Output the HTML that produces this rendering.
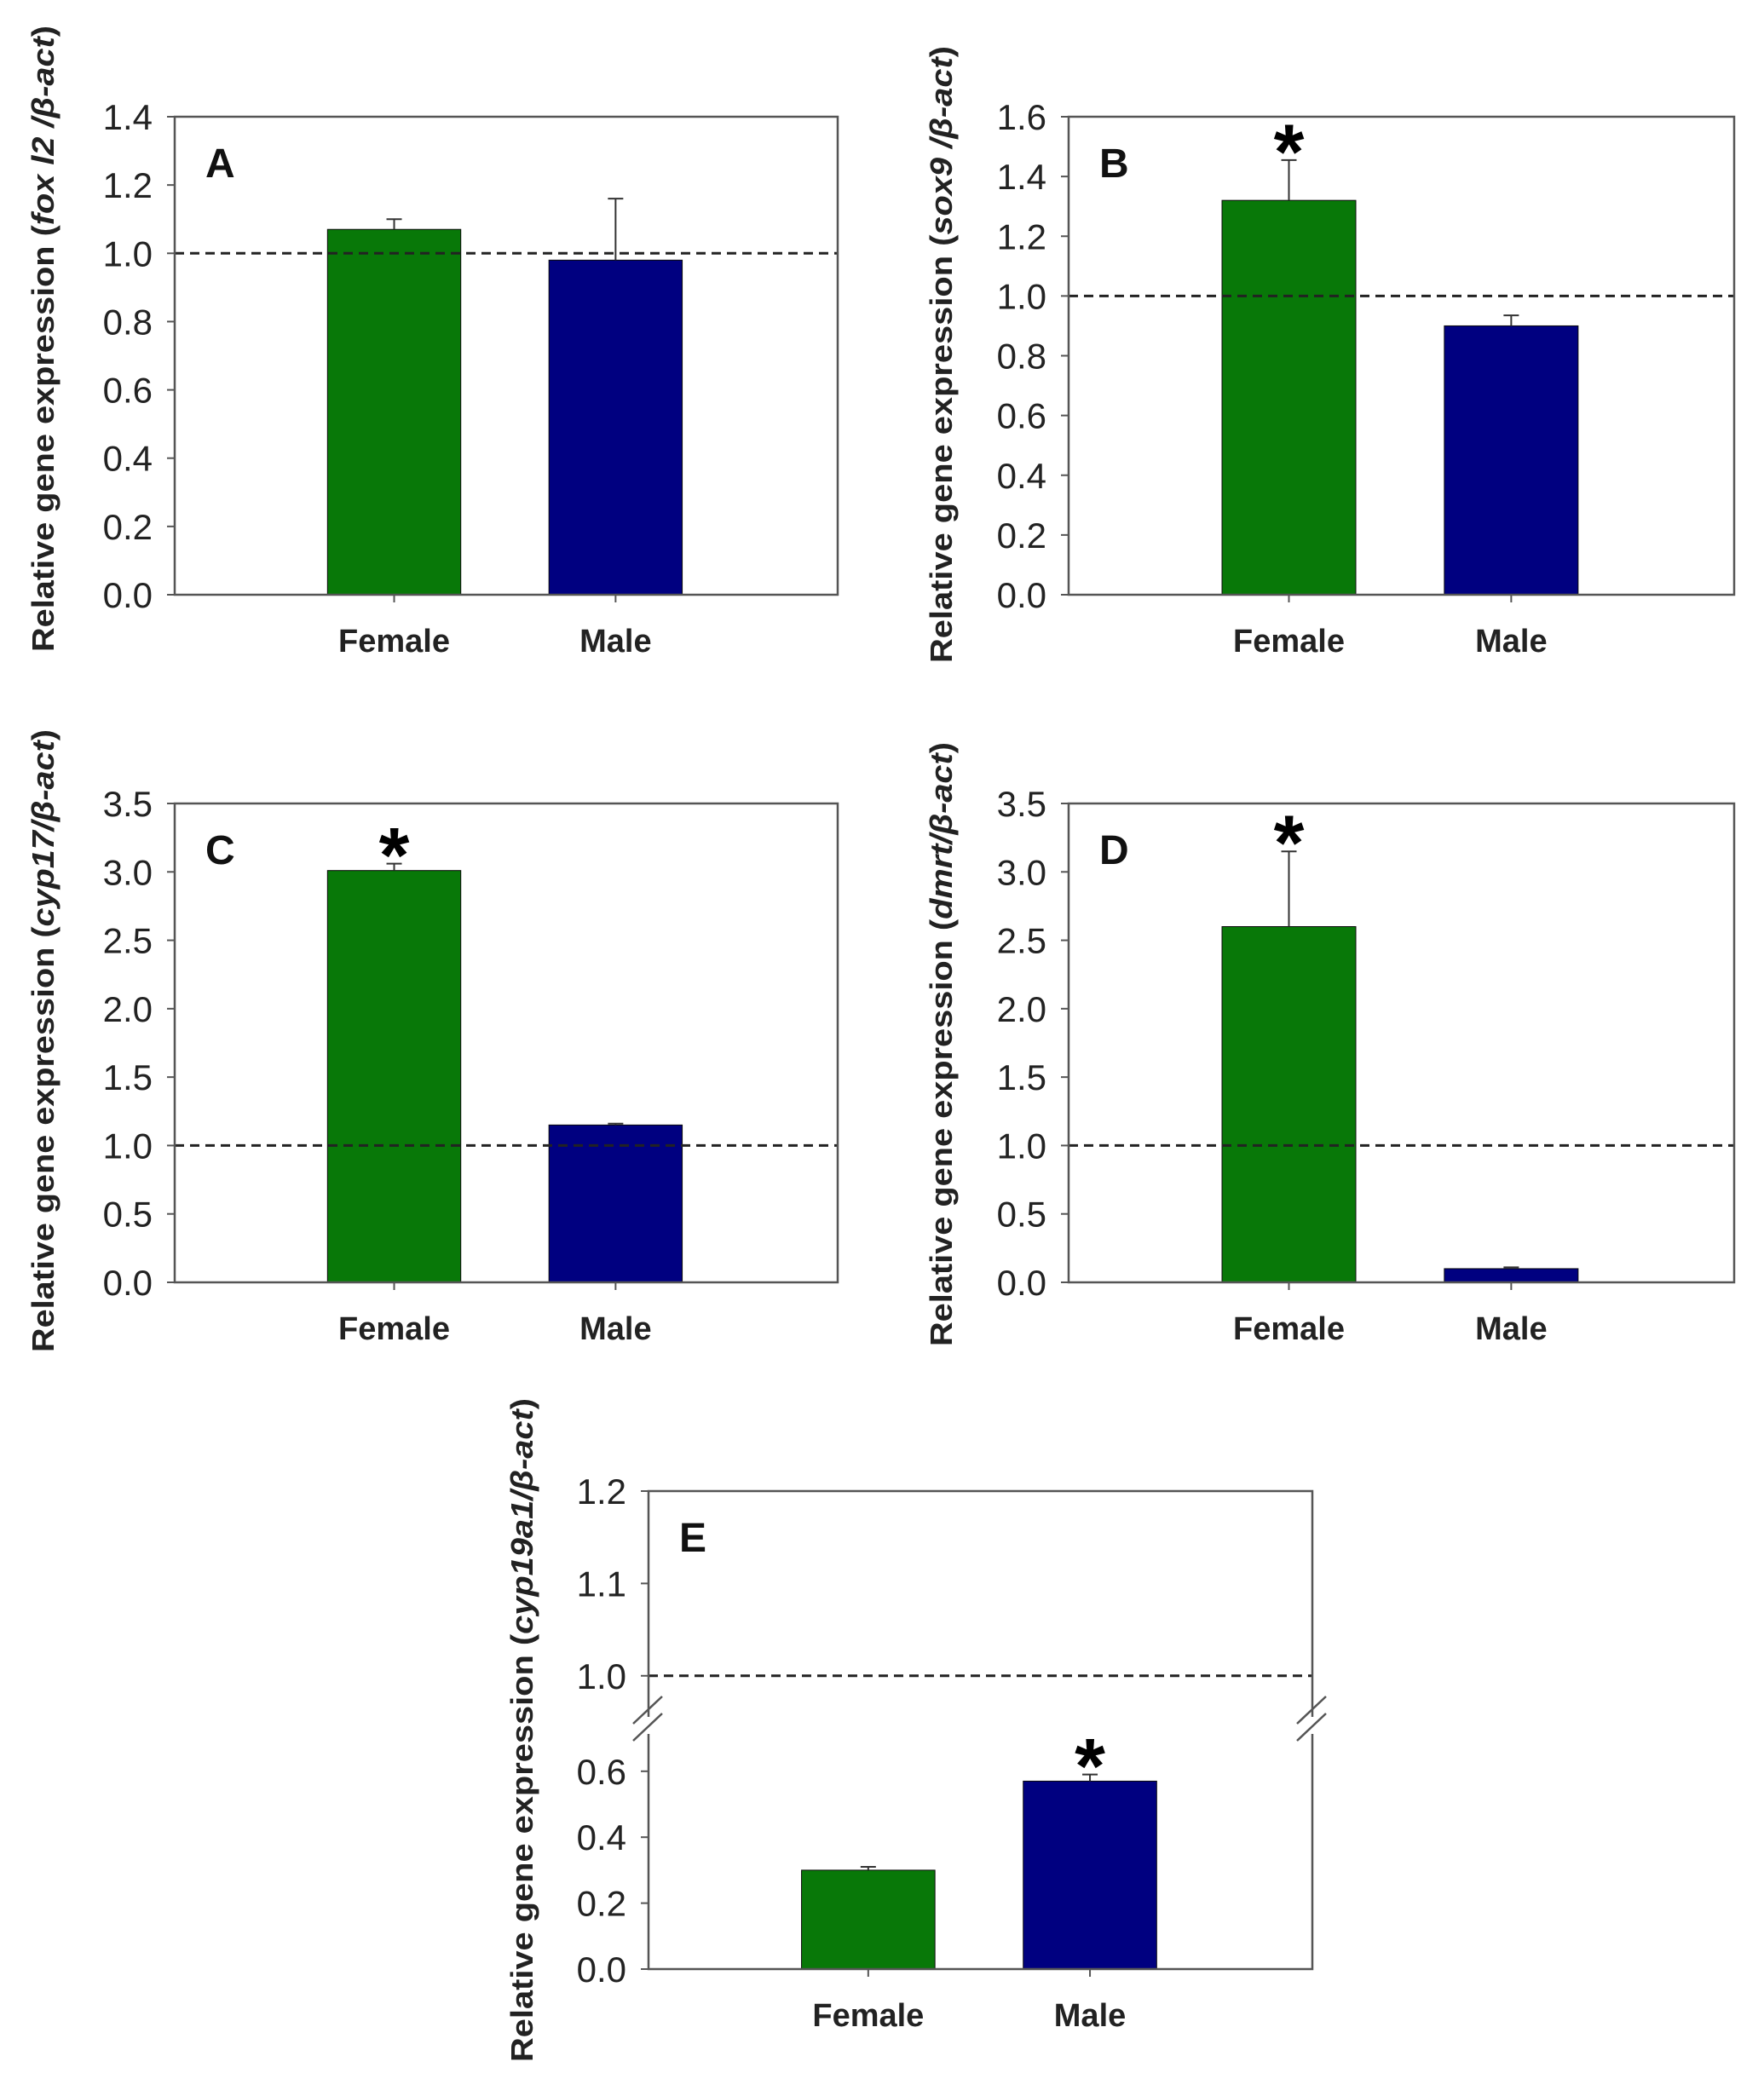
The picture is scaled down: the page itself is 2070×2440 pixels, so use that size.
<!DOCTYPE html>
<html><head><meta charset="utf-8"><style>
html,body{margin:0;padding:0;background:#fff;}
svg{display:block;font-family:"Liberation Sans",Arial,sans-serif;}
</style></head><body>
<svg id="fig" width="2070" height="2440" viewBox="0 0 2070 2440" xmlns="http://www.w3.org/2000/svg"></svg>
<script>
// ---- data ----
const categories = ["Female", "Male"];
const panelLetters = ["A", "B", "C", "D", "E"];
const geneNames = ["fox l2 ", "sox9 ", "cyp17", "dmrt", "cyp19a1"];
const meansA = [1.07, 0.98];  const errA = [1.10, 1.16];  const starsA = [false, false];
const meansB = [1.32, 0.90];  const errB = [1.455, 0.935]; const starsB = [true, false];
const meansC = [3.01, 1.15];  const errC = [3.06, 1.16];  const starsC = [true, false];
const meansD = [2.60, 0.10];  const errD = [3.15, 0.11];  const starsD = [true, false];
const meansE = [0.30, 0.57];  const errE = [0.31, 0.59];  const starsE = [false, true];
const ticksA = [0, 0.2, 0.4, 0.6, 0.8, 1.0, 1.2, 1.4];
const ticksB = [0, 0.2, 0.4, 0.6, 0.8, 1.0, 1.2, 1.4, 1.6];
const ticksC = [0, 0.5, 1.0, 1.5, 2.0, 2.5, 3.0, 3.5];
const ticksD = [0, 0.5, 1.0, 1.5, 2.0, 2.5, 3.0, 3.5];
const ticksE = [0, 0.2, 0.4, 0.6, 1.0, 1.1, 1.2];
const refLine = 1.0;

const NS = "http://www.w3.org/2000/svg";
const svg = document.getElementById("fig");
const colors = ["#087808", "#000080"];
function mk(tag, attrs, parent, txt) {
  const e = document.createElementNS(NS, tag);
  for (const k in attrs) e.setAttribute(k, attrs[k]);
  if (txt !== undefined) e.textContent = txt;
  (parent || svg).appendChild(e);
  return e;
}

function panel(idx, L, R, T, B, ticks, means, errs, stars, titleX, titleY0, titleY1, yFn, decimals) {
  const g = mk("g", {});
  
  
  const y = yFn;
  const w = R - L;
  const centers = [L + w * 0.331, L + w * 0.665];
  const bw = w * 0.201;
  means.forEach((m, i) => {
    const r = mk("rect", {x: centers[i] - bw / 2, y: y(m), width: bw, height: y(0) - y(m), fill: colors[i], stroke: "#0a0a0a", "stroke-width": 1}, g);
    
    
    const ey = y(errs[i]);
    const el = mk("path", {d: `M${centers[i]},${y(m)}V${ey}M${centers[i]-9},${ey}H${centers[i]+9}`, stroke: "#333", "stroke-width": 2, fill: "none"}, g);
    
    
    if (stars[i]) {
      const s = mk("text", {x: centers[i], y: ey + 22, "text-anchor": "middle", "font-size": 92, "font-weight": "bold", fill: "#000"}, g, "*");
      
      
    }
    const cl = mk("text", {x: centers[i], y: B + 67, "text-anchor": "middle", "font-size": 38, "font-weight": "bold", fill: "#222"}, g, categories[i]);
    
    
    mk("line", {x1: centers[i], x2: centers[i], y1: B, y2: B + 9, stroke: "#555", "stroke-width": 2}, g);
  });
  const d = mk("line", {x1: L, x2: R, y1: y(refLine), y2: y(refLine), stroke: "#222", "stroke-width": 3, "stroke-dasharray": "11,7"}, g);
  
  
  const f = mk("rect", {x: L, y: T, width: w, height: B - T, fill: "none", stroke: "#555", "stroke-width": 2.5}, g);
  
  
  ticks.forEach(t => {
    mk("line", {x1: L - 9, x2: L, y1: y(t), y2: y(t), stroke: "#555", "stroke-width": 2}, g);
    const tl = mk("text", {x: L - 26, y: y(t) + 15, "text-anchor": "end", "font-size": 42, fill: "#222"}, g, t.toFixed(decimals));
    
    
  });
  const pl = mk("text", {x: L + 36, y: T + 71, "font-size": 48, "font-weight": "bold", fill: "#111"}, g, panelLetters[idx]);
  
  
  const cy = (titleY0 + titleY1) / 2;
  const yt = mk("text", {x: 0, y: 0, transform: `translate(${titleX},${cy}) rotate(-90)`, "text-anchor": "middle", "font-size": 36, "font-weight": "bold", fill: "#222", textLength: titleY1 - titleY0, lengthAdjust: "spacingAndGlyphs"}, g);
  
  
  mk("tspan", {}, yt, "Relative gene expression (");
  mk("tspan", {"font-style": "italic"}, yt, geneNames[idx] + "/β-act");
  mk("tspan", {}, yt, ")");
  return {g, y};
}

function lin(T, B, max) { return v => B - v / max * (B - T); }

panel(0, 205, 983, 137, 698, ticksA, meansA, errA, starsA, 63, 30, 765, lin(137, 698, 1.4), 1);
panel(1, 1254, 2035, 137, 698, ticksB, meansB, errB, starsB, 1117, 54, 778, lin(137, 698, 1.6), 1);
panel(2, 205, 983, 943, 1505, ticksC, meansC, errC, starsC, 63, 856, 1587, lin(943, 1505, 3.5), 1);
panel(3, 1254, 2035, 943, 1505, ticksD, meansD, errD, starsD, 1117, 871, 1580, lin(943, 1505, 3.5), 1);

const eT = 1750, eB = 2311;
const y0E = 2311, y06E = 1336 * 1.556, y10E = 1264 * 1.556, y12E = eT;
function yE(v) {
  if (v <= 0.7) return y0E - v / 0.6 * (y0E - y06E);
  return y10E - (v - 1.0) / 0.2 * (y10E - y12E);
}
const pe = panel(4, 761, 1540, eT, eB, ticksE, meansE, errE, starsE, 625, 1641, 2420, yE, 1);
[761, 1540].forEach(x => {
  const by = 2025;
  mk("rect", {x: x - 4, y: by - 10, width: 8, height: 20, fill: "#fff"}, pe.g);
  const bk = mk("path", {d: `M${x-18},${by-2}L${x+16},${by-34}M${x-18},${by+18}L${x+16},${by-14}`, stroke: "#555", "stroke-width": 2.5, fill: "none"}, pe.g);
  
  
});
</script>
</body></html>
